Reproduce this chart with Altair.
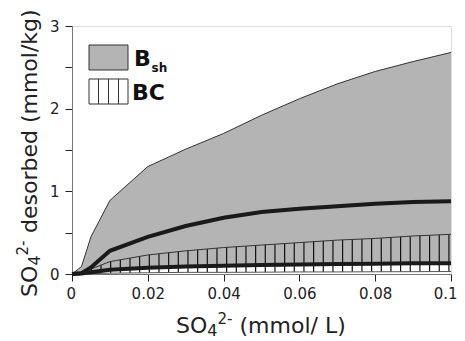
import altair as alt
import pandas as pd
import numpy as np

# ---- data ----
conc = [0, 0.0025, 0.005, 0.01, 0.02, 0.03, 0.04, 0.05, 0.06, 0.07, 0.08, 0.09, 0.1]
bsh_upper = [0, 0.09, 0.45, 0.89, 1.30, 1.51, 1.70, 1.92, 2.12, 2.30, 2.45, 2.57, 2.68]
bsh_mean = [0, 0.01, 0.08, 0.28, 0.45, 0.58, 0.68, 0.75, 0.79, 0.82, 0.85, 0.87, 0.88]
bsh_lower = [0, 0.0, 0.01, 0.04, 0.065, 0.08, 0.095, 0.105, 0.11, 0.115, 0.12, 0.125, 0.125]
bc_upper = [0, 0.02, 0.06, 0.15, 0.23, 0.28, 0.32, 0.35, 0.38, 0.41, 0.43, 0.46, 0.48]
bc_mean = [0, 0.005, 0.02, 0.05, 0.075, 0.09, 0.10, 0.11, 0.115, 0.12, 0.125, 0.13, 0.13]
bc_lower = [0, 0.0, 0.005, 0.01, 0.015, 0.02, 0.02, 0.022, 0.025, 0.025, 0.027, 0.028, 0.03]

x_ticks = [0, 0.01, 0.02, 0.03, 0.04, 0.05, 0.06, 0.07, 0.08, 0.09, 0.1]
y_ticks = [0, 0.5, 1, 1.5, 2, 2.5, 3]

df = pd.DataFrame({
    "x": conc, "bsh_u": bsh_upper, "bsh_m": bsh_mean, "bsh_l": bsh_lower,
    "bc_u": bc_upper, "bc_m": bc_mean, "bc_l": bc_lower,
})

# hatch lines for the BC band (decoration)
hx = [0.00255 * k for k in range(1, 40)]
hatch = pd.DataFrame({
    "x": hx,
    "y1": np.interp(hx, conc, bc_lower),
    "y2": np.interp(hx, conc, bc_upper),
})

FONT = "DejaVu Sans"
W, H = 379, 248

xs = alt.Scale(domain=[0, 0.1], nice=False, zero=False)
ys = alt.Scale(domain=[0, 3], nice=False, zero=False)

xaxis = alt.Axis(values=x_ticks, title=None, grid=False,
                 labelExpr="(round(datum.value*100) % 2 == 0) ? (datum.value == 0 ? '0' : format(datum.value, '.2~f')) : ''",
                 labelFont=FONT, labelFontSize=15, labelColor="#222", labelPadding=5,
                 tickSize=7, tickColor="#222", domainColor="#777",
                 labelFlush=True, labelFlushOffset=6)
yaxis = alt.Axis(values=y_ticks, title=None, grid=False,
                 labelExpr="(datum.value % 1 == 0) ? format(datum.value, 'd') : ''",
                 labelFont=FONT, labelFontSize=15, labelColor="#222", labelPadding=6,
                 tickSize=7, tickColor="#222", domainColor="#777")

base = alt.Chart(df)

area = base.mark_area(color="#b4b4b4", opacity=1).encode(
    x=alt.X("x:Q", scale=xs, axis=xaxis),
    y=alt.Y("bsh_l:Q", scale=ys, axis=yaxis),
    y2="bsh_u:Q",
)
area_edge = base.mark_line(color="#333", strokeWidth=1).encode(
    x=alt.X("x:Q", scale=xs), y=alt.Y("bsh_u:Q", scale=ys))

hatch_rules = alt.Chart(hatch).mark_rule(color="#111", strokeWidth=1.2).encode(
    x=alt.X("x:Q", scale=xs), y=alt.Y("y1:Q", scale=ys), y2="y2:Q")

bc_edge = base.mark_line(color="#333", strokeWidth=1).encode(
    x=alt.X("x:Q", scale=xs), y=alt.Y("bc_u:Q", scale=ys))
bc_low_edge = base.mark_line(color="#555", strokeWidth=1).encode(
    x=alt.X("x:Q", scale=xs), y=alt.Y("bc_l:Q", scale=ys))

bsh_line = base.mark_line(color="#1a1a1a", strokeWidth=4).encode(
    x=alt.X("x:Q", scale=xs), y=alt.Y("bsh_m:Q", scale=ys))
bc_line = base.mark_line(color="#1a1a1a", strokeWidth=4).encode(
    x=alt.X("x:Q", scale=xs), y=alt.Y("bc_m:Q", scale=ys))

# ---- legend (drawn) ----
one = pd.DataFrame({"a": [0]})
leg_gray = alt.Chart(one).mark_rect(fill="#b4b4b4", stroke="#333", strokeWidth=1).encode(
    x=alt.value(17), x2=alt.value(56), y=alt.value(19), y2=alt.value(44))
leg_bc = alt.Chart(one).mark_rect(fill="white", stroke="#333", strokeWidth=1).encode(
    x=alt.value(17), x2=alt.value(56), y=alt.value(53), y2=alt.value(78))
leg_hx = pd.DataFrame({"px": [26.5, 36.5, 46.5]})
leg_hatch = alt.Chart(leg_hx).mark_rule(color="#333", strokeWidth=1).encode(
    x=alt.X("px:Q", scale=None), y=alt.value(53), y2=alt.value(78))

leg_txt = pd.DataFrame({
    "t": ["B", "sh", "BC"],
    "px": [62, 79.5, 60],
    "py": [40, 46, 74],
    "fs": [22, 12, 22],
})
leg_text = alt.Chart(leg_txt).mark_text(font=FONT, fontWeight="bold", align="left",
                                        baseline="alphabetic", color="#111").encode(
    x=alt.X("px:Q", scale=None), y=alt.Y("py:Q", scale=None),
    size=alt.Size("fs:Q", scale=None, legend=None), text="t:N")

# ---- axis titles (drawn with sub/superscripts) ----
titles = pd.DataFrame({
    "t": ["SO", "4", "2-", "(mmol/ L)",
          "SO", "4", "2-", "desorbed (mmol/kg)"],
    "px": [104, 135.3, 145.5, 167.5,
           -35, -32, -44, -35],
    "py": [307, 310, 298, 307,
           271, 239.5, 229.5, 207],
    "fs": [22, 16, 15, 22, 22, 16, 15, 22],
    "ang": [0, 0, 0, 0, 270, 270, 270, 270],
})
title_text = alt.Chart(titles).mark_text(font=FONT, align="left", baseline="alphabetic",
                                         color="#222").encode(
    x=alt.X("px:Q", scale=None), y=alt.Y("py:Q", scale=None),
    size=alt.Size("fs:Q", scale=None, legend=None),
    angle=alt.Angle("ang:Q", scale=None), text="t:N")

chart = alt.layer(
    area, area_edge, hatch_rules, bc_edge, bc_low_edge, bsh_line, bc_line,
    leg_gray, leg_bc, leg_hatch, leg_text, title_text,
).properties(
    width=W, height=H,
    autosize=alt.AutoSizeParams(type="none"),
    padding={"left": 64, "top": 18, "right": 6, "bottom": 65},
).configure_view(stroke="#777", strokeWidth=1).configure(background="white")

chart.save("out.html", embed_options={"renderer": "svg", "actions": False})
